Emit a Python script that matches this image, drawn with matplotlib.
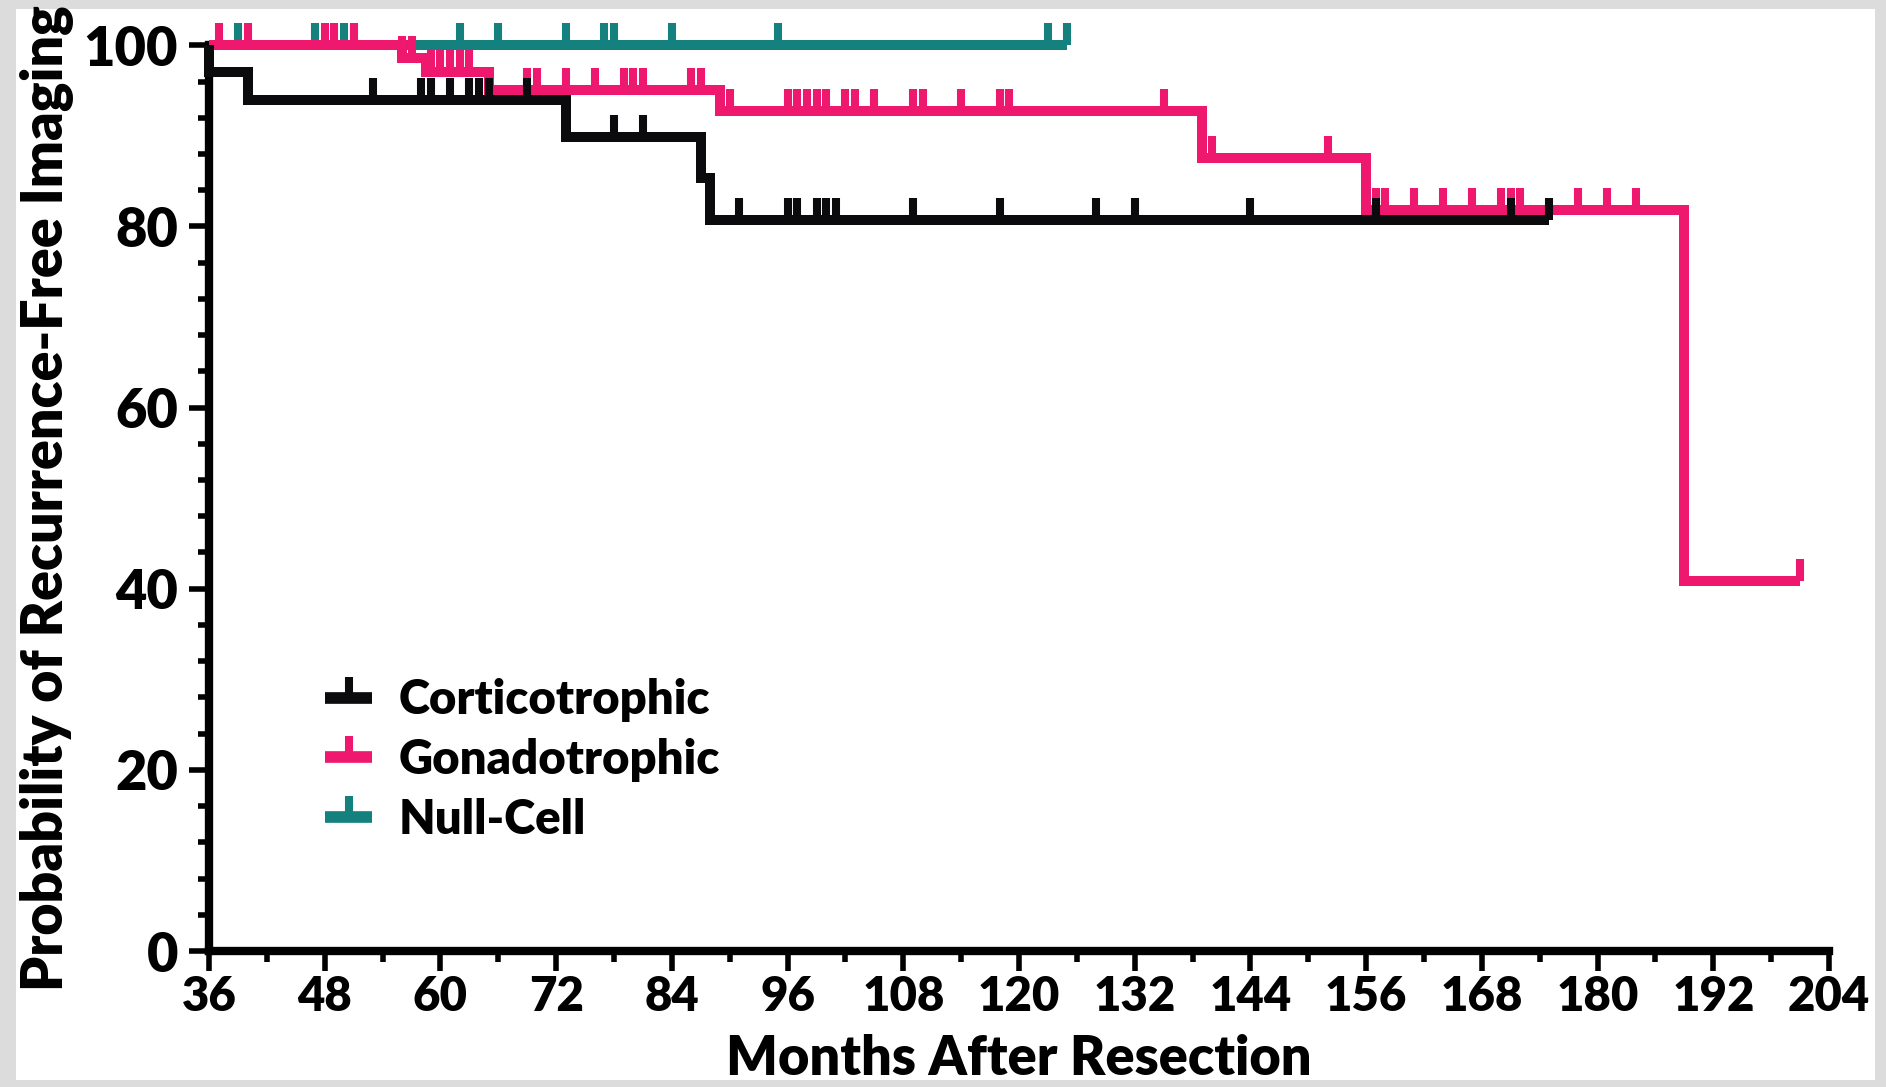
import matplotlib
matplotlib.use("Agg")
import matplotlib.pyplot as plt
from matplotlib.path import Path
from matplotlib.lines import Line2D
from matplotlib.patches import Rectangle
from matplotlib.ticker import MultipleLocator

# Kaplan-Meier curves
# (months after resection, % recurrence-free imaging)
cort_events = [36, 40, 73, 87, 88]
cort_levels = [97.0, 94.0, 89.9, 85.3, 80.7]
cort_censored = [53, 58, 59, 61, 63, 64, 65, 69, 78, 81, 91, 96, 97, 99, 100,
                 101, 109, 118, 128, 132, 144, 157, 171, 175]

gona_events = [56, 58.5, 65, 89, 139, 156, 189]
gona_levels = [98.6, 97.0, 95.1, 92.8, 87.6, 81.8, 40.9]
gona_censored = [37, 40, 48, 49, 51, 56, 57, 59, 60, 61, 62, 63, 69, 70, 73,
                 76, 79, 80, 81, 86, 87, 90, 96, 97, 98, 99, 100, 102, 103,
                 105, 109, 110, 114, 118, 119, 135, 140, 152, 157, 158, 161,
                 164, 167, 170, 171, 172, 178, 181, 184, 201]

null_events = []
null_levels = []
null_censored = [39, 47, 50, 62, 66, 73, 77, 78, 84, 95, 123, 125]

labels = ["Corticotrophic", "Gonadotrophic", "Null-Cell"]
colors = ["#0b0b0d", "#ee196e", "#15817e"]

plt.rcParams['font.family'] = ['Lato', 'DejaVu Sans']
plt.rcParams['font.weight'] = 'heavy'

tick_mark = Path([(0, 0), (0, 1)], [Path.MOVETO, Path.LINETO])


def km_steps(events, levels, censored, start=36):
    end = max(censored + events)
    t = [start] + list(events) + [end]
    s = [100.0] + list(levels) + [levels[-1] if levels else 100.0]
    return t, s


def level_at(time, events, levels):
    val = 100.0
    for e, l in zip(events, levels):
        if e <= time:
            val = l
    return val


fig = plt.figure(figsize=(18.86, 10.87), dpi=100, facecolor='#dcdcdc')
fig.patches.append(Rectangle((16 / 1886, 7 / 1087), (1875 - 16) / 1886,
                             (1079 - 8) / 1087, transform=fig.transFigure,
                             facecolor='white', edgecolor='none', zorder=-10))
ax = fig.add_axes([209 / 1886, 1 - 951 / 1087, (1829 - 209) / 1886,
                   (951 - 45.3) / 1087])
ax.set_facecolor('none')

series = [
    (cort_events, cort_levels, cort_censored),
    (gona_events, gona_levels, gona_censored),
    (null_events, null_levels, null_censored),
]
zorders = [5, 4, 3]

handles = []
for (ev, lv, cens), lab, col, z in zip(series, labels, colors, zorders):
    t, s = km_steps(ev, lv, cens)
    ax.plot(t, s, drawstyle='steps-post', color=col, lw=7.2,
            solid_joinstyle='miter', solid_capstyle='butt',
            clip_on=False, zorder=z)
    cy = [level_at(c, ev, lv) for c in cens]
    ax.plot(cens, cy, linestyle='none', marker=tick_mark, ms=32,
            mew=5.8, mec=col, mfc=col, clip_on=False, zorder=z + 0.5)
    handles.append(Line2D([0], [0], color=col, lw=8.4, marker=tick_mark,
                          ms=30, mew=5.8, mec=col, solid_capstyle='butt',
                          label=lab))

ax.set_xlim(36, 204)
ax.set_ylim(0, 100)
ax.xaxis.set_major_locator(MultipleLocator(12))
ax.xaxis.set_minor_locator(MultipleLocator(6))
ax.yaxis.set_major_locator(MultipleLocator(20))
ax.yaxis.set_minor_locator(MultipleLocator(4))

for side in ['top', 'right']:
    ax.spines[side].set_visible(False)
for side in ['left', 'bottom']:
    ax.spines[side].set_linewidth(6)
    ax.spines[side].set_capstyle('projecting')

ax.tick_params(which='major', length=14.4, width=4, color='black')
ax.tick_params(which='minor', length=8, width=4, color='black')
ax.tick_params(axis='y', which='major', labelsize=39, pad=8)
ax.tick_params(axis='x', which='major', labelsize=34, pad=3)
for lbl in ax.get_xticklabels() + ax.get_yticklabels():
    lbl.set_fontweight('heavy')

ax.set_xlabel("Months After Resection", fontsize=39, fontweight='heavy',
              labelpad=11)
ax.set_ylabel("Probability of Recurrence-Free Imaging", fontsize=40,
              fontweight='heavy', labelpad=7)

ax.legend(handles=handles, loc='center left',
          bbox_to_anchor=(325 / 1886, 1 - 760 / 1087),
          bbox_transform=fig.transFigure, frameon=False,
          handlelength=1.0, handletextpad=0.55, labelspacing=0.33,
          borderpad=0, borderaxespad=0, numpoints=1,
          prop={'weight': 'heavy', 'size': 34})

fig.savefig("out.png", dpi=100, facecolor=fig.get_facecolor())
